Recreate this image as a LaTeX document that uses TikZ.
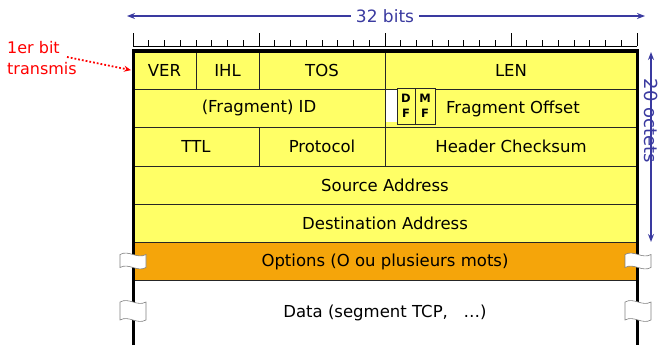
\documentclass[tikz,border=0pt]{standalone}
\usepackage{fontspec}
\setmainfont{DejaVu Sans}
\usetikzlibrary{arrows.meta}
\definecolor{hdryellow}{HTML}{FFFF66}
\definecolor{optorange}{HTML}{F5A50A}
\definecolor{dimblue}{HTML}{3A3AA0}
\newcommand{\txt}{\fontsize{16.5}{18}\selectfont}

\begin{document}
\begin{tikzpicture}[x=1pt,y=-1pt,
    field/.style={draw=black!85,line width=0.8pt,fill=hdryellow,anchor=north west,
      outer sep=0pt,inner sep=0pt,minimum height=38.3pt,font=\txt},
    flagbox/.style={draw=black!85,line width=0.8pt,fill=hdryellow,anchor=north west,
      outer sep=0pt,inner sep=0pt,minimum width=18pt,minimum height=36pt,
      align=center,font=\bfseries\fontsize{11.5}{15}\selectfont},
    dim/.style={dimblue,line width=1.6pt,{Stealth[length=8pt,width=6pt]}-{Stealth[length=8pt,width=6pt]}},
    brk/.style={draw=gray,fill=white,line width=0.6pt}]
  \useasboundingbox (0,0) rectangle (660,345);
  % header words
  \node[field,minimum width=63pt] (ver) at (133,51) {VER};
  \node[field,minimum width=63pt] (ihl) at (ver.north east) {IHL};
  \node[field,minimum width=126pt] (tos) at (ihl.north east) {TOS};
  \node[field,minimum width=252pt] (len) at (tos.north east) {LEN};
  \node[field,minimum width=252pt] (id) at (ver.south west) {(Fragment) ID};
  \node[field,minimum width=252pt] (foff) at (id.north east) {\hspace{4pt}Fragment Offset};
  \node[fill=white,anchor=north west,inner sep=0pt,minimum width=11pt,minimum height=32pt] (rsv) at (386,90) {};
  \node[flagbox] (df) at (397,88) {D\\F};
  \node[flagbox,minimum width=20pt] (mf) at (df.north east) {M\\F};
  \node[field,minimum width=126pt] (ttl) at (id.south west) {TTL};
  \node[field,minimum width=126pt] (proto) at (ttl.north east) {Protocol};
  \node[field,minimum width=252pt] (cksum) at (proto.north east) {Header Checksum};
  \node[field,minimum width=504pt] (src) at (ttl.south west) {Source Address};
  \node[field,minimum width=504pt] (dst) at (src.south west) {Destination Address};
  \node[field,minimum width=504pt,fill=optorange] (opt) at (dst.south west) {Options (O ou plusieurs mots)};
  \node[font=\txt] (data) at (385,313) {Data (segment TCP,\ \ \ …)};
  \draw[line width=3pt] (133,345) -- (133,51) -- (637,51) -- (637,345);
  % ruler
  \draw[line width=0.8pt] (133,46) -- (637,46);
  \foreach \i in {0,...,32}{
    \pgfmathsetmacro\t{ifthenelse(mod(\i,8)==0,13,6)}
    \draw[line width=0.8pt] (133+\i*15.75,46) -- ++(0,-\t);
  }
  % breaks
  \foreach \x/\y/\h in {133/261/13,133/311/18,638/261/13,638/311/18}
    \draw[brk] (\x-13,\y-\h/2) .. controls (\x-4,\y-\h/2-5) and (\x+4,\y-\h/2+5) .. (\x+13,\y-\h/2)
      -- (\x+13,\y+\h/2) .. controls (\x+4,\y+\h/2+5) and (\x-4,\y+\h/2-5) .. (\x-13,\y+\h/2) -- cycle;
  % dimensions
  \coordinate (bl) at (127,16);
  \coordinate (br) at (645,16);
  \draw[dim] (bl) -- (br);
  \node[fill=white,text=dimblue,font=\fontsize{17}{18}\selectfont,inner xsep=5pt] (bits) at (385,16) {32 bits};
  \coordinate (vt) at (651,52);
  \coordinate (vb) at (651,242);
  \draw[dim] (vt) -- (vb);
  \node[rotate=-90,text=dimblue,font=\fontsize{18}{18}\selectfont] (octets) at (651,121) {20 octets};
  % first bit
  \node[red,align=left,anchor=north west,inner sep=0pt,font=\fontsize{16}{21}\selectfont] (first) at (7,41) {1er bit\\transmis};
  \coordinate (from) at (67,57);
  \draw[red,dotted,line width=1.8pt,-{Stealth[length=7pt,width=6pt]}] (from) -- ([xshift=-2pt]ver.west);
\end{tikzpicture}
\end{document}
